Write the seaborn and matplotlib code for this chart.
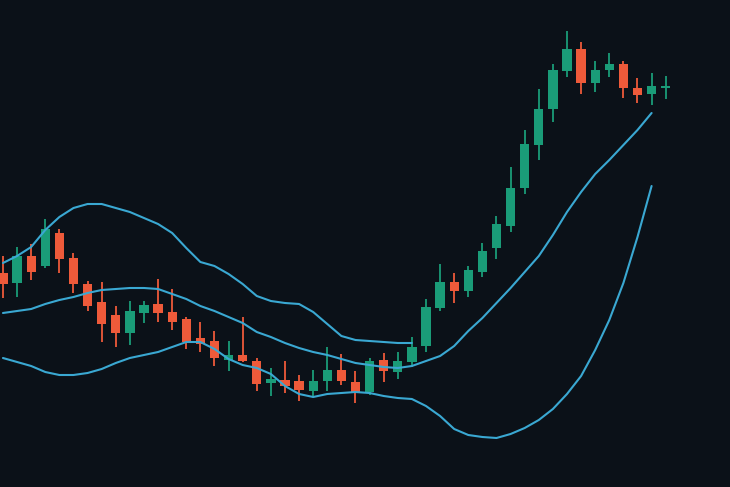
import numpy as np
import pandas as pd
import matplotlib
matplotlib.use("Agg")
import matplotlib.pyplot as plt
import seaborn as sns

# ---- data (price units) ----
opens = [95.4, 93.4, 98.8, 96.8, 103.4, 98.4, 93.2, 89.6, 87.0, 83.4,
         87.4, 89.2, 87.6, 86.2, 82.4, 81.8, 78.0, 79.0, 77.8, 73.4,
         74.0, 73.8, 71.8, 73.8, 76.0, 73.6, 71.6, 78.0, 75.6, 77.6,
         80.8, 88.4, 93.6, 91.8, 95.6, 100.4, 104.8, 112.4, 121.0, 128.2,
         135.8, 140.2, 133.4, 136.0, 137.2, 132.4, 131.2, 132.4]
closes = [93.2, 98.8, 95.6, 104.2, 98.2, 93.2, 88.8, 85.2, 83.4, 87.8,
          89.0, 87.4, 85.6, 81.6, 81.2, 78.4, 79.0, 77.8, 73.2, 74.2,
          72.8, 72.0, 73.8, 76.0, 73.8, 71.4, 77.8, 75.8, 77.8, 80.6,
          88.6, 93.6, 91.8, 96.0, 99.8, 105.2, 112.4, 121.2, 128.2, 136.0,
          140.2, 133.4, 136.0, 137.2, 132.4, 131.0, 132.8, 132.8]
highs = [98.8, 100.6, 101.2, 106.2, 104.2, 99.4, 93.8, 93.6, 88.8, 89.8,
         89.8, 94.2, 92.2, 86.6, 85.6, 83.8, 81.8, 86.6, 78.4, 76.4,
         77.8, 75.0, 76.0, 80.6, 79.2, 75.8, 78.4, 79.4, 79.6, 82.6,
         90.2, 97.2, 95.4, 96.8, 101.4, 106.8, 116.6, 124.0, 132.2, 137.2,
         143.8, 141.6, 137.8, 139.4, 137.8, 134.4, 135.4, 134.8]
lows = [90.4, 90.6, 94.0, 96.4, 95.4, 91.4, 87.8, 81.6, 80.6, 81.0,
        85.4, 85.6, 84.0, 80.2, 79.6, 76.8, 75.8, 77.6, 71.8, 70.8,
        71.4, 69.8, 70.6, 71.8, 73.0, 69.4, 71.0, 73.6, 74.2, 76.6,
        79.6, 87.8, 89.4, 90.6, 94.6, 98.2, 103.6, 111.2, 118.0, 125.6,
        134.6, 131.2, 131.6, 134.6, 130.4, 129.4, 129.0, 130.2]

upper_band = [97.4, 98.8, 100.6, 104.0, 106.6, 108.4, 109.2, 109.2, 108.4, 107.6,
              106.4, 105.2, 103.4, 100.4, 97.6, 96.8, 95.2, 93.2, 90.8, 89.8,
              89.4, 89.2, 87.6, 85.2, 82.8, 82.0, 81.8, 81.6, 81.4, 81.4]
middle_band = [87.4, 87.8, 88.2, 89.2, 90.0, 90.6, 91.4, 92.0, 92.2, 92.4,
               92.4, 92.2, 91.2, 90.2, 88.8, 87.8, 86.6, 85.4, 83.6, 82.6,
               81.4, 80.4, 79.6, 79.0, 78.2, 77.4, 77.0, 76.6, 76.4, 76.8,
               77.8, 78.8, 80.8, 83.8, 86.4, 89.4, 92.4, 95.6, 98.8, 103.0,
               107.6, 111.6, 115.2, 118.0, 121.0, 124.0, 127.4]
lower_band = [78.4, 77.6, 76.8, 75.6, 75.0, 75.0, 75.4, 76.2, 77.4, 78.4,
              79.0, 79.6, 80.6, 81.6, 81.6, 80.2, 78.2, 77.0, 76.4, 75.2,
              72.8, 71.2, 70.6, 71.2, 71.4, 71.6, 71.4, 70.8, 70.4, 70.2,
              68.8, 66.8, 64.2, 63.0, 62.6, 62.4, 63.2, 64.4, 66.0, 68.2,
              71.2, 74.8, 80.0, 86.0, 93.4, 102.6, 112.8]

BG = "#0b1118"
UP = "#1a9c78"
DOWN = "#ee5a3a"
BAND = "#3aa8d2"

sns.set_theme(style="dark", rc={"axes.facecolor": BG, "figure.facecolor": BG})

df = pd.DataFrame({"open": opens, "close": closes, "high": highs, "low": lows})
df["idx"] = np.arange(len(df))
df["up"] = df["close"] >= df["open"]
df["color"] = np.where(df["up"], UP, DOWN)

fig = plt.figure(figsize=(7.3, 4.87), dpi=100)
ax = fig.add_axes([0, 0, 1, 1])
ax.set_facecolor(BG)

# wicks
ax.vlines(df["idx"], df["low"], df["high"], colors=df["color"], linewidth=1.3, zorder=2)
# bodies
body_bottom = np.minimum(df["open"], df["close"])
body_h = np.maximum(np.abs(df["close"] - df["open"]), 0.35)
ax.bar(df["idx"], body_h, bottom=body_bottom, width=0.66, color=df["color"],
       linewidth=0, zorder=3)

# bands
sns.lineplot(x=np.arange(len(upper_band)), y=upper_band, ax=ax, color=BAND, lw=1.5, zorder=4)
sns.lineplot(x=np.arange(len(middle_band)), y=middle_band, ax=ax, color=BAND, lw=1.5, zorder=4)
sns.lineplot(x=np.arange(len(lower_band)), y=lower_band, ax=ax, color=BAND, lw=1.5, zorder=4)

ax.set_xlim(-0.21, 51.56)
ax.set_ylim(52.6, 150)
ax.set_axis_off()

fig.savefig("out.png", dpi=100, facecolor=BG)
